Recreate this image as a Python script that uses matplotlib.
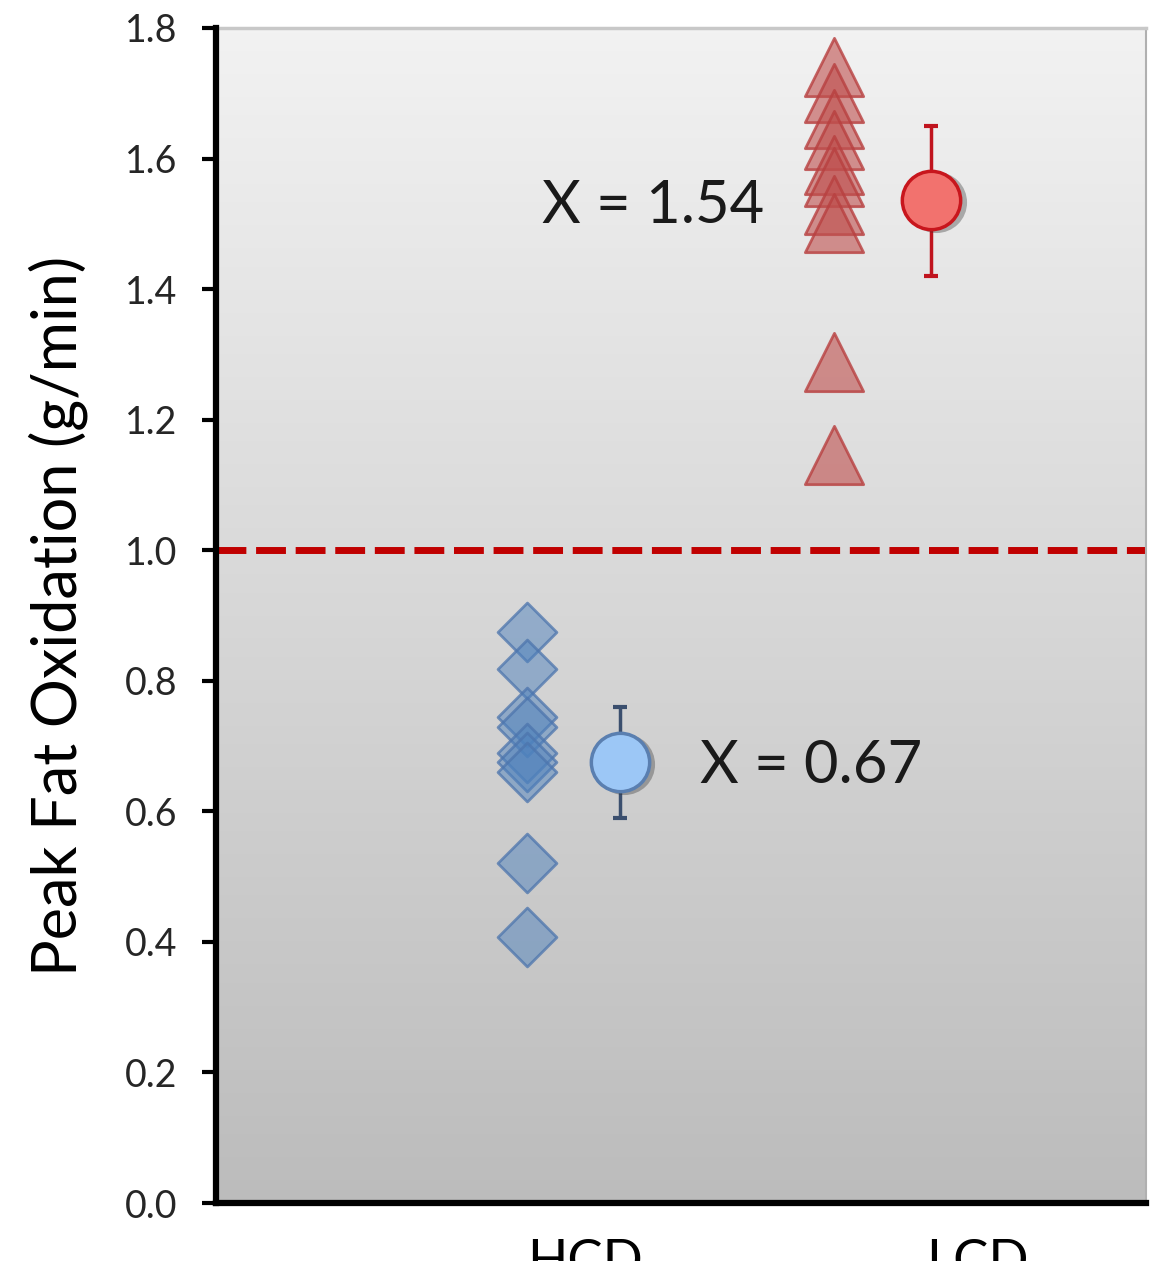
import numpy as np
import matplotlib
matplotlib.use("Agg")
import matplotlib.pyplot as plt
from matplotlib.colors import LinearSegmentedColormap
from matplotlib import transforms

# Values
groups = ["HCD", "LCD"]
hcd_values = [0.875, 0.818, 0.745, 0.729, 0.689, 0.676, 0.660, 0.521, 0.407]
lcd_values = [1.741, 1.700, 1.661, 1.628, 1.590, 1.572, 1.529, 1.501, 1.289, 1.146]
group_means = [0.675, 1.536]
err_low = [0.59, 1.42]
err_high = [0.76, 1.65]
mean_labels = ["X = 0.67", "X = 1.54"]
reference_line = 1.0
y_ticks = [0.0, 0.2, 0.4, 0.6, 0.8, 1.0, 1.2, 1.4, 1.6, 1.8]

# Layout offsets relative to category centre
point_offset = [-0.148, -0.364]
mean_offset = [0.089, -0.117]

plt.rcParams["font.family"] = ["Lato", "DejaVu Sans"]

fig = plt.figure(figsize=(11.52, 12.61), dpi=100)
ax = fig.add_axes([216 / 1152, 58 / 1261, 930 / 1152, 1175 / 1261])

# gradient background of the plot area
grad = np.linspace(0, 1, 256).reshape(-1, 1)
cmap = LinearSegmentedColormap.from_list("bg", ["#bcbcbc", "#f2f2f2"])
ax.imshow(grad, extent=[0, 1, 0, 1], transform=ax.transAxes, cmap=cmap,
          aspect="auto", origin="lower", zorder=0)
ax.set_facecolor("none")

cx = np.arange(1, len(groups) + 1)

# reference line
ax.axhline(reference_line, color="#c00000", lw=5, dashes=(4.3, 1.4),
           dash_capstyle="butt", zorder=2)

# individual points
ax.scatter(np.full(len(hcd_values), cx[0] + point_offset[0]), hcd_values,
           marker="D", s=30 ** 2, facecolor=(0.31, 0.51, 0.74, 0.5),
           edgecolor=(0.30, 0.46, 0.68, 0.75), linewidth=2, zorder=3)
ax.scatter(np.full(len(lcd_values), cx[1] + point_offset[1]), lcd_values,
           marker="^", s=42 ** 2, facecolor=(0.75, 0.31, 0.30, 0.6),
           edgecolor=(0.72, 0.25, 0.25, 0.8), linewidth=2, zorder=3)

# means with error bars
mean_face = ["#9cc7f6", "#f2726e"]
mean_edge = ["#5a7fb0", "#c8161d"]
err_color = ["#3b4f6e", "#c0141e"]
for i in range(len(groups)):
    mx = cx[i] + mean_offset[i]
    m = group_means[i]
    ax.errorbar(mx, m, yerr=[[m - err_low[i]], [err_high[i] - m]], fmt="none",
                ecolor=err_color[i], elinewidth=2.5, capsize=5, capthick=3, zorder=4)
    shadow = transforms.offset_copy(ax.transData, fig=fig, x=3, y=-1.5, units="points")
    ax.plot(mx, m, "o", ms=44, color="#303030", alpha=0.35, mec="none",
            transform=shadow, zorder=4.5)
    ax.plot(mx, m, "o", ms=42, mfc=mean_face[i], mec=mean_edge[i], mew=2.5, zorder=5)

# mean annotations
ax.text(1.293, 0.643, mean_labels[0], fontsize=43, ha="left", va="baseline",
        color="#1a1a1a", zorder=6)
ax.text(1.458, 1.501, mean_labels[1], fontsize=43, ha="right", va="baseline",
        color="#1a1a1a", zorder=6)

ax.set_xlim(0.06, 2.43)
ax.set_ylim(0, 1.8)
ax.set_xticks(cx)
ax.set_xticklabels(groups, fontsize=38)
ax.set_yticks(y_ticks)
ax.set_yticklabels([f"{v:.1f}" for v in y_ticks], fontsize=27, color="#262626")
ax.tick_params(axis="x", length=0, pad=26)
ax.tick_params(axis="y", length=10, width=3, pad=18, direction="out")

ax.set_ylabel("Peak Fat Oxidation (g/min)", fontsize=44, labelpad=26)

ax.spines["left"].set_linewidth(4.5)
ax.spines["bottom"].set_linewidth(4.5)
ax.spines["top"].set_color("#c8c8c8")
ax.spines["top"].set_linewidth(2.5)
ax.spines["right"].set_color("#b0b0b0")
ax.spines["right"].set_linewidth(1.5)
for s in ["left", "bottom"]:
    ax.spines[s].set_zorder(7)

fig.savefig("out.png", dpi=100)
